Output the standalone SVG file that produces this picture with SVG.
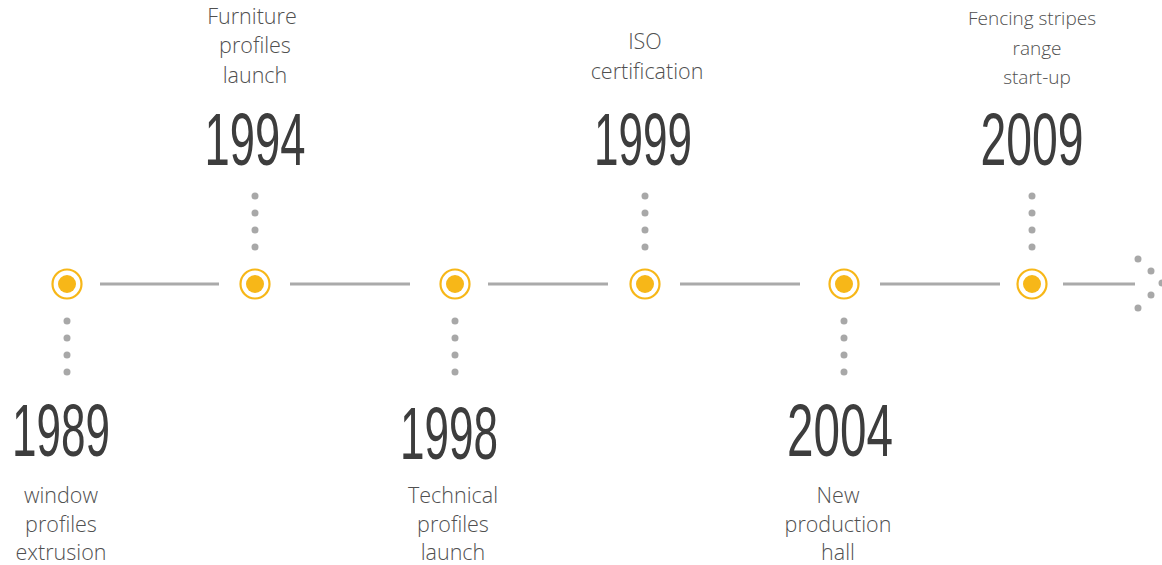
<svg xmlns="http://www.w3.org/2000/svg" width="1162" height="565" viewBox="0 0 1162 565">
<style>
.bg{fill:#ffffff}
.line{stroke:#aaaaaa;stroke-width:3;fill:none}
.dot{fill:#a8a8a8}
.ring{fill:none;stroke:#f7b718;stroke-width:2.2}
.core{fill:#f7b718}
.year{font-family:"Liberation Sans",Arial,sans-serif;font-size:74px;fill:#3d3d3d;text-anchor:middle}
.lab{font-family:"Open Sans","Noto Sans",sans-serif;font-weight:300;font-size:21.5px;fill:#505050;text-anchor:middle}
.labs{font-family:"Open Sans","Noto Sans",sans-serif;font-weight:300;font-size:19px;fill:#505050;text-anchor:middle}
</style>
<defs>
<g id="marker">
<circle class="ring" cx="0" cy="0" r="14.5"/>
<circle class="core" cx="0" cy="0" r="9"/>
</g>
<g id="dotsDown">
<circle class="dot" cx="0" cy="37" r="3.5"/>
<circle class="dot" cx="0" cy="54" r="3.5"/>
<circle class="dot" cx="0" cy="71" r="3.5"/>
<circle class="dot" cx="0" cy="88" r="3.5"/>
</g>
<g id="dotsUp">
<circle class="dot" cx="0" cy="-37" r="3.5"/>
<circle class="dot" cx="0" cy="-54" r="3.5"/>
<circle class="dot" cx="0" cy="-71" r="3.5"/>
<circle class="dot" cx="0" cy="-88" r="3.5"/>
</g>
</defs>
<rect class="bg" x="0" y="0" width="1162" height="565"/>
<g id="connectors">
<line class="line" x1="100" y1="284" x2="219" y2="284"/>
<line class="line" x1="290" y1="284" x2="410" y2="284"/>
<line class="line" x1="488" y1="284" x2="608" y2="284"/>
<line class="line" x1="680" y1="284" x2="800" y2="284"/>
<line class="line" x1="880" y1="284" x2="1000" y2="284"/>
<line class="line" x1="1063" y1="284" x2="1135" y2="284"/>
<g id="arrow-end">
<circle class="dot" cx="1138" cy="259" r="3.5"/>
<circle class="dot" cx="1151" cy="271" r="3.5"/>
<circle class="dot" cx="1162" cy="283" r="3.5"/>
<circle class="dot" cx="1151" cy="295" r="3.5"/>
<circle class="dot" cx="1138" cy="308" r="3.5"/>
</g>
</g>
<g id="node-1989">
<use href="#marker" x="67" y="284"/>
<use href="#dotsDown" x="67" y="284"/>
<text class="year" x="61" y="456" textLength="98" lengthAdjust="spacingAndGlyphs">1989</text>
<text class="lab" x="61" y="503">window</text>
<text class="lab" x="61" y="532">profiles</text>
<text class="lab" x="61" y="560">extrusion</text>
</g>
<g id="node-1994">
<use href="#marker" x="255" y="284"/>
<use href="#dotsUp" x="255" y="284"/>
<text class="year" x="255" y="165" textLength="101" lengthAdjust="spacingAndGlyphs">1994</text>
<text class="lab" x="252" y="24">Furniture</text>
<text class="lab" x="255" y="53">profiles</text>
<text class="lab" x="255" y="83">launch</text>
</g>
<g id="node-1998">
<use href="#marker" x="455" y="284"/>
<use href="#dotsDown" x="455" y="284"/>
<text class="year" x="449" y="459" textLength="98" lengthAdjust="spacingAndGlyphs">1998</text>
<text class="lab" x="453" y="503">Technical</text>
<text class="lab" x="453" y="532">profiles</text>
<text class="lab" x="453" y="560">launch</text>
</g>
<g id="node-1999">
<use href="#marker" x="645" y="284"/>
<use href="#dotsUp" x="645" y="284"/>
<text class="year" x="643" y="165" textLength="98" lengthAdjust="spacingAndGlyphs">1999</text>
<text class="lab" x="645" y="49">ISO</text>
<text class="lab" x="647" y="79">certification</text>
</g>
<g id="node-2004">
<use href="#marker" x="844" y="284"/>
<use href="#dotsDown" x="844" y="284"/>
<text class="year" x="840" y="456" textLength="106" lengthAdjust="spacingAndGlyphs">2004</text>
<text class="lab" x="838" y="503">New</text>
<text class="lab" x="838" y="532">production</text>
<text class="lab" x="838" y="560">hall</text>
</g>
<g id="node-2009">
<use href="#marker" x="1032" y="284"/>
<use href="#dotsUp" x="1032" y="284"/>
<text class="year" x="1032" y="165" textLength="103" lengthAdjust="spacingAndGlyphs">2009</text>
<text class="labs" x="1032" y="25">Fencing stripes</text>
<text class="labs" x="1037" y="55">range</text>
<text class="labs" x="1037" y="84">start-up</text>
</g>
</svg>
